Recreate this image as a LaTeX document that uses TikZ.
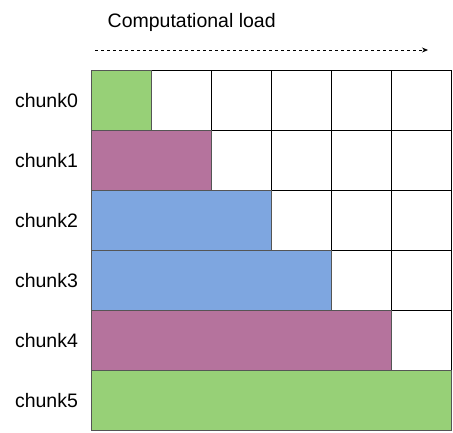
\documentclass[tikz,border=0pt]{standalone}
\usepackage{fontspec}
\setmainfont{Liberation Sans}
\usetikzlibrary{arrows.meta}
\definecolor{cgreen}{HTML}{97D077}
\definecolor{cpurple}{HTML}{B5739D}
\definecolor{cblue}{HTML}{7EA6E0}
\definecolor{cedge}{HTML}{555555}
\begin{document}
\begin{tikzpicture}[x=1pt,y=-1pt,
  cell/.style={draw=black,fill=white,line width=1pt},
  bar/.style={draw=cedge,line width=0.8pt},
  lbl/.style={font=\fontsize{19.5}{23}\selectfont,inner sep=0pt}]
\useasboundingbox (0,0) rectangle (453,432);
% white cells
\foreach \r in {0,...,4}{
  \pgfmathtruncatemacro{\s}{\r+1}
  \foreach \c in {\s,...,5}{
    \draw[cell] (91.5+60*\c,70+60*\r) rectangle ++(60,60);
  }
}
% colored bars
\draw[bar,fill=cgreen]  (91.5,70)  rectangle (151.5,130);
\draw[bar,fill=cpurple] (91.5,130) rectangle (211.5,190);
\draw[bar,fill=cblue]   (91.5,190) rectangle (271.5,250);
\draw[bar,fill=cblue]   (91.5,250) rectangle (331.5,310);
\draw[bar,fill=cpurple] (91.5,310) rectangle (391.5,370);
\draw[bar,fill=cgreen]  (91.5,370) rectangle (451.5,430);
% labels
\foreach \r in {0,...,5}{
  \node[lbl] (k\r) at (46.5,101+60*\r) {chunk\r};
}
\node[lbl,anchor=west] (title) at (107.5,22) {Computational load};
\coordinate (a0) at (95,50);
\coordinate (a1) at (428,50);
\draw[dashed,line width=0.8pt,-{Stealth[length=6pt,width=5pt]}] (a0) -- (a1);
\end{tikzpicture}
\end{document}
